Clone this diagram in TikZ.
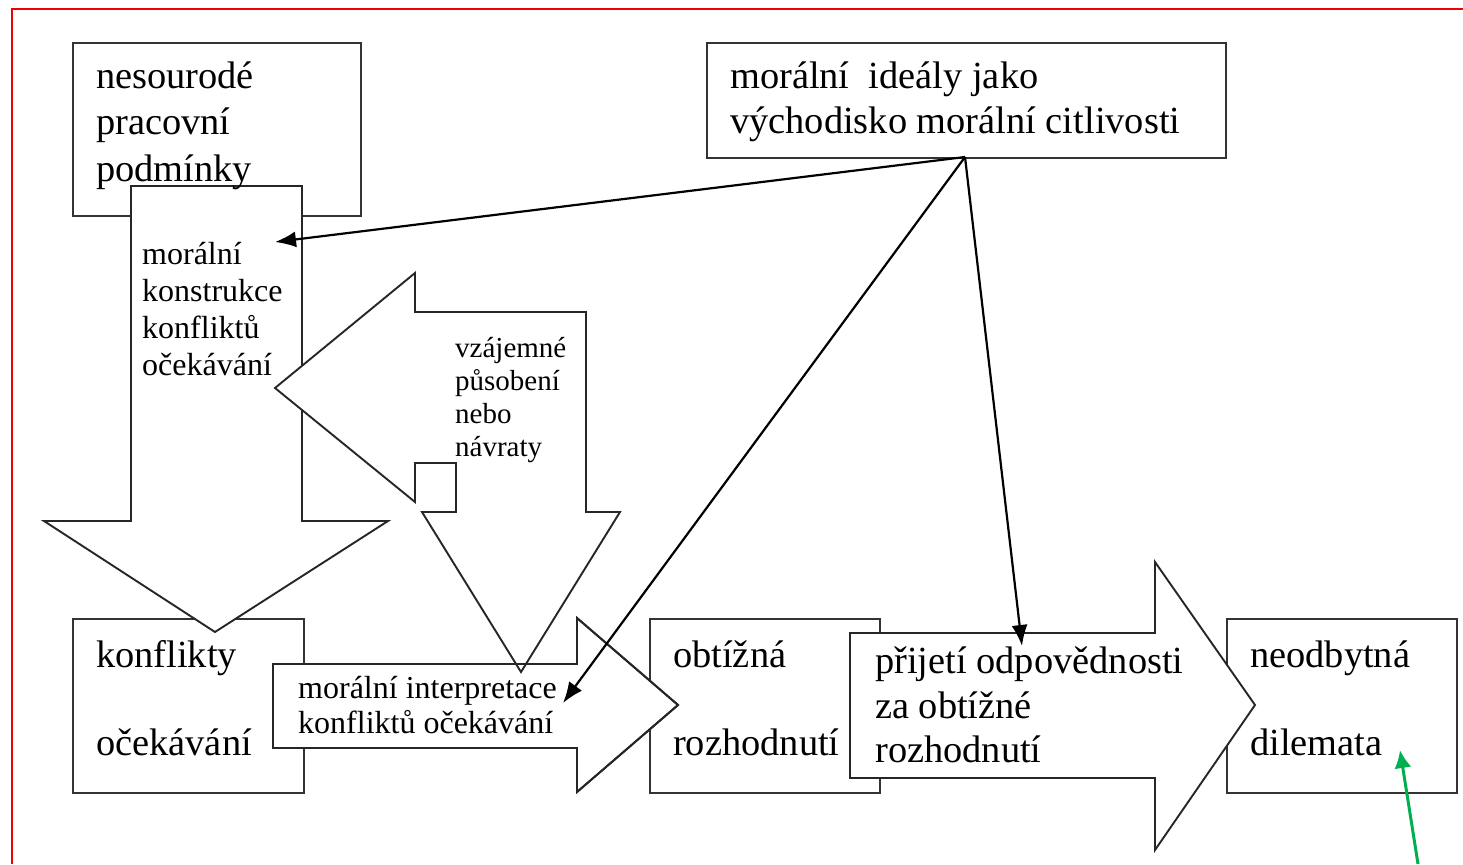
\documentclass[tikz,border=0pt]{standalone}
\usepackage{fontspec}
\setmainfont{Liberation Serif}
\usetikzlibrary{arrows.meta}
\tikzset{
  box/.style={draw=black!80, line width=2.2pt, fill=white, inner sep=0pt, anchor=north west},
  blockarrow/.style={draw=black!85, line width=1.9pt, fill=white, line join=miter},
  outlineonly/.style={draw=black!85, line width=1.9pt, line join=miter},
  conn/.style={line width=2.2pt, -{Latex[length=21pt,width=16pt]}},
  greenconn/.style={draw=greenarrow, line width=3pt, -{Latex[length=18pt,width=17pt]}},
  bigtxt/.style={font=\fontsize{38.4}{46}\selectfont, anchor=base west, inner sep=0pt},
  midtxt/.style={font=\fontsize{32}{37}\selectfont, anchor=base west, inner sep=0pt},
  smalltxt/.style={font=\fontsize{29}{33}\selectfont, anchor=base west, inner sep=0pt},
}
\definecolor{greenarrow}{RGB}{0,176,80}
\definecolor{borderred}{RGB}{240,0,0}
\begin{document}
\begin{tikzpicture}[x=1pt,y=-1pt]
\useasboundingbox (0,0) rectangle (1463,864);
\fill[white] (0,0) rectangle (1463,864);
% red frame
\coordinate (fTL) at (12,9);
\coordinate (fTR) at (1463,9);
\coordinate (fBL) at (12,864);
\draw[borderred, line width=2pt] (fTR) -- (fTL) -- (fBL);

% box: nesourode pracovni podminky
\node[box, minimum width=288pt, minimum height=173pt] (nes) at (72,42) {};
% box: konflikty ocekavani
\node[box, minimum width=231pt, minimum height=174pt] (kon) at (72,618) {};
% big down arrow
\draw[blockarrow] (131,186) -- (302,186) -- (302,521) -- (388,521) -- (215,632) -- (44,521) -- (131,521) -- cycle;
% box: moralni idealy
\node[box, minimum width=519pt, minimum height=115pt] (ide) at (706,42) {};
% other bottom boxes
\node[box, minimum width=230pt, minimum height=174pt] (obt) at (649,618) {};
\node[box, minimum width=230pt, minimum height=174pt] (neo) at (1226,618) {};
% interpretation arrow (filled)
\draw[blockarrow] (273,664) -- (577,664) -- (577,618) -- (678,705) -- (577,792) -- (577,748) -- (273,748) -- cycle;
% bent arrow: vzajemne pusobeni
\draw[blockarrow] (275,388) -- (415,273) -- (415,312) -- (586,312) -- (586,512) -- (620,512) -- (521,672) -- (422,512) -- (456,512) -- (456,463) -- (415,463) -- (415,502) -- cycle;
% interpretation arrow outline on top
\draw[outlineonly] (273,664) -- (577,664) -- (577,618) -- (678,705) -- (577,792) -- (577,748) -- (273,748) -- cycle;
% big right arrow: prijeti odpovednosti
\draw[blockarrow] (850,633) -- (1155,633) -- (1155,562) -- (1255,705) -- (1155,850) -- (1155,778) -- (850,778) -- cycle;

% texts
\node[bigtxt] (t1) at (96,89) {nesourodé};
\node[bigtxt] (t2) at (96,135) {pracovní};
\node[bigtxt] (t3) at (96,181) {podmínky};

\node[bigtxt] (t4) at (730,89) {morální~ ideály jako};
\node[bigtxt] (t5) at (730,133) {východisko morální citlivosti};

\node[midtxt] (t6) at (142,264) {morální};
\node[midtxt] (t7) at (142,301) {konstrukce};
\node[midtxt] (t8) at (142,338) {konfliktů};
\node[midtxt] (t9) at (142,375) {očekávání};

\node[smalltxt] (t10) at (455,357) {vzájemné};
\node[smalltxt] (t11) at (455,390) {působení};
\node[smalltxt] (t12) at (455,423) {nebo};
\node[smalltxt] (t13) at (455,456) {návraty};

\node[bigtxt] (t14) at (96,667) {konflikty};
\node[bigtxt] (t15) at (96,755) {očekávání};

\node[midtxt] (t16) at (298,698) {morální interpretace};
\node[midtxt] (t17) at (298,733) {konfliktů očekávání};

\node[bigtxt] (t18) at (673,667) {obtížná};
\node[bigtxt] (t19) at (673,755) {rozhodnutí};

\node[bigtxt] (t20) at (875,673) {přijetí odpovědnosti};
\node[bigtxt] (t21) at (875,718) {za obtížné};
\node[bigtxt] (t22) at (875,762) {rozhodnutí};

\node[bigtxt] (t23) at (1250,667) {neodbytná};
\node[bigtxt] (t24) at (1250,755) {dilemata};

% connectors
\coordinate (src) at (965,157);
\coordinate (tipA) at (275,242);
\coordinate (tipB) at (563,703);
\coordinate (tipC) at (1022,646);
\draw[conn] (src) -- (tipA);
\draw[conn] (src) -- (tipB);
\draw[conn] (src) -- (tipC);

% green arrow
\coordinate (gstart) at (1418,864);
\coordinate (gtip) at (1400,750);
\draw[greenconn] (gstart) -- (gtip);
\end{tikzpicture}
\end{document}
